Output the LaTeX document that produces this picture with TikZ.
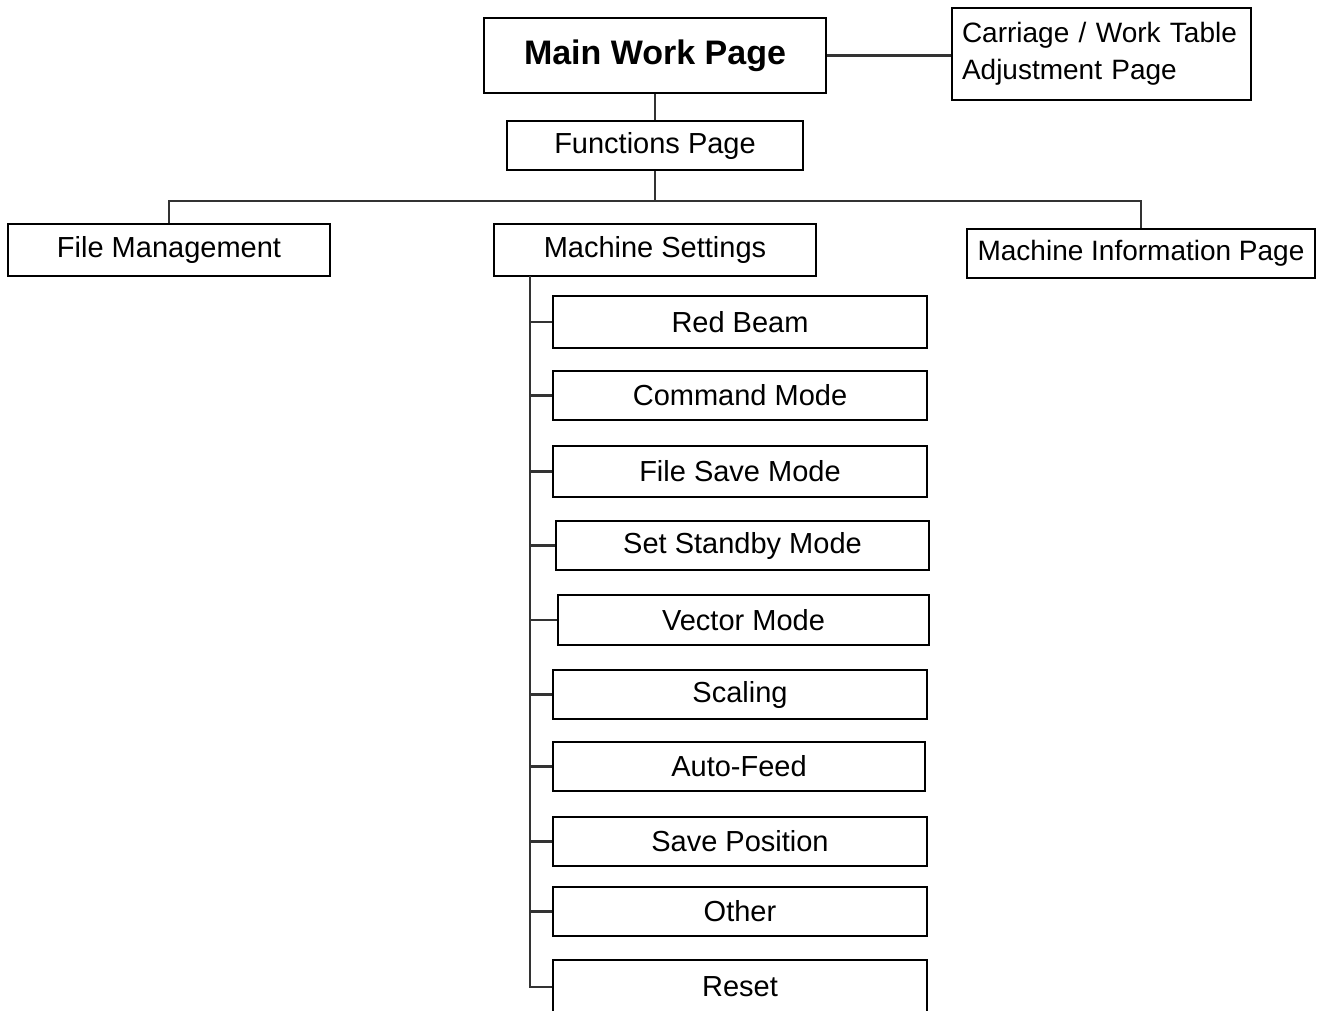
\documentclass[tikz,border=0pt]{standalone}
\usepackage{fontspec}
\setmainfont{Liberation Sans}
\begin{document}
\begin{tikzpicture}[x=1pt,y=-1pt,
  box/.style={draw=black, line width=2pt, inner sep=0pt, font=\fontsize{29}{34}\selectfont},
  sub/.style={box, minimum width=374, minimum height=50},
  conn/.style={line width=2.2pt, draw=black!80}]
\clip (0,0) rectangle (1319,1010);
\node[box, minimum width=342, minimum height=75, font=\bfseries\fontsize{34}{40}\selectfont] (main) at (655,55.5) {Main Work Page};
\node[box, minimum width=299, minimum height=92, text width=279, align=left, font=\fontsize{28}{37}\selectfont] (carr) at (1101.5,54) {Carriage / Work Table\\Adjustment Page};
\node[box, minimum width=296, minimum height=49] (func) at (655,145.5) {Functions Page};
\node[box, minimum width=322, minimum height=52] (fm) at (169,250) {File Management};
\node[box, minimum width=322, minimum height=52] (ms) at (655,250) {Machine Settings};
\node[box, minimum width=348, minimum height=49, font=\fontsize{28}{34}\selectfont] (mi) at (1141,253.5) {Machine Information Page};
\node[sub, minimum height=52] (c1) at (740,322) {Red Beam};
\node[sub, minimum height=49] (c2) at (740,395.5) {Command Mode};
\node[sub, minimum height=51] (c3) at (740,471.5) {File Save Mode};
\node[sub, minimum height=49, minimum width=373] (c4) at (742.5,545.5) {Set Standby Mode};
\node[sub, minimum height=50, minimum width=371] (c5) at (743.5,620) {Vector Mode};
\node[sub, minimum height=49] (c6) at (740,694.5) {Scaling};
\node[sub, minimum height=49, minimum width=372] (c7) at (739,766.5) {Auto-Feed};
\node[sub, minimum height=49] (c8) at (740,841.5) {Save Position};
\node[sub, minimum height=49] (c9) at (740,911.5) {Other};
\node[sub, minimum height=54] (c10) at (740,987) {Reset};
\coordinate (bus) at (655,201);
\coordinate (msb) at (530,276);
\draw[conn] (main.south) -- (func.north);
\draw[conn] (main.east) -- (main.east -| carr.west);
\draw[conn] (func.south) -- (bus);
\draw[conn] (fm.north) -- (fm.north |- bus) -- (mi.north |- bus) -- (mi.north);
\draw[conn] (msb) -- (c10.west -| msb) -- (c10.west);
\foreach \c in {c1,c2,c3,c4,c5,c6,c7,c8,c9}
  \draw[conn] (\c.west -| msb) -- (\c.west);
\end{tikzpicture}
\end{document}
